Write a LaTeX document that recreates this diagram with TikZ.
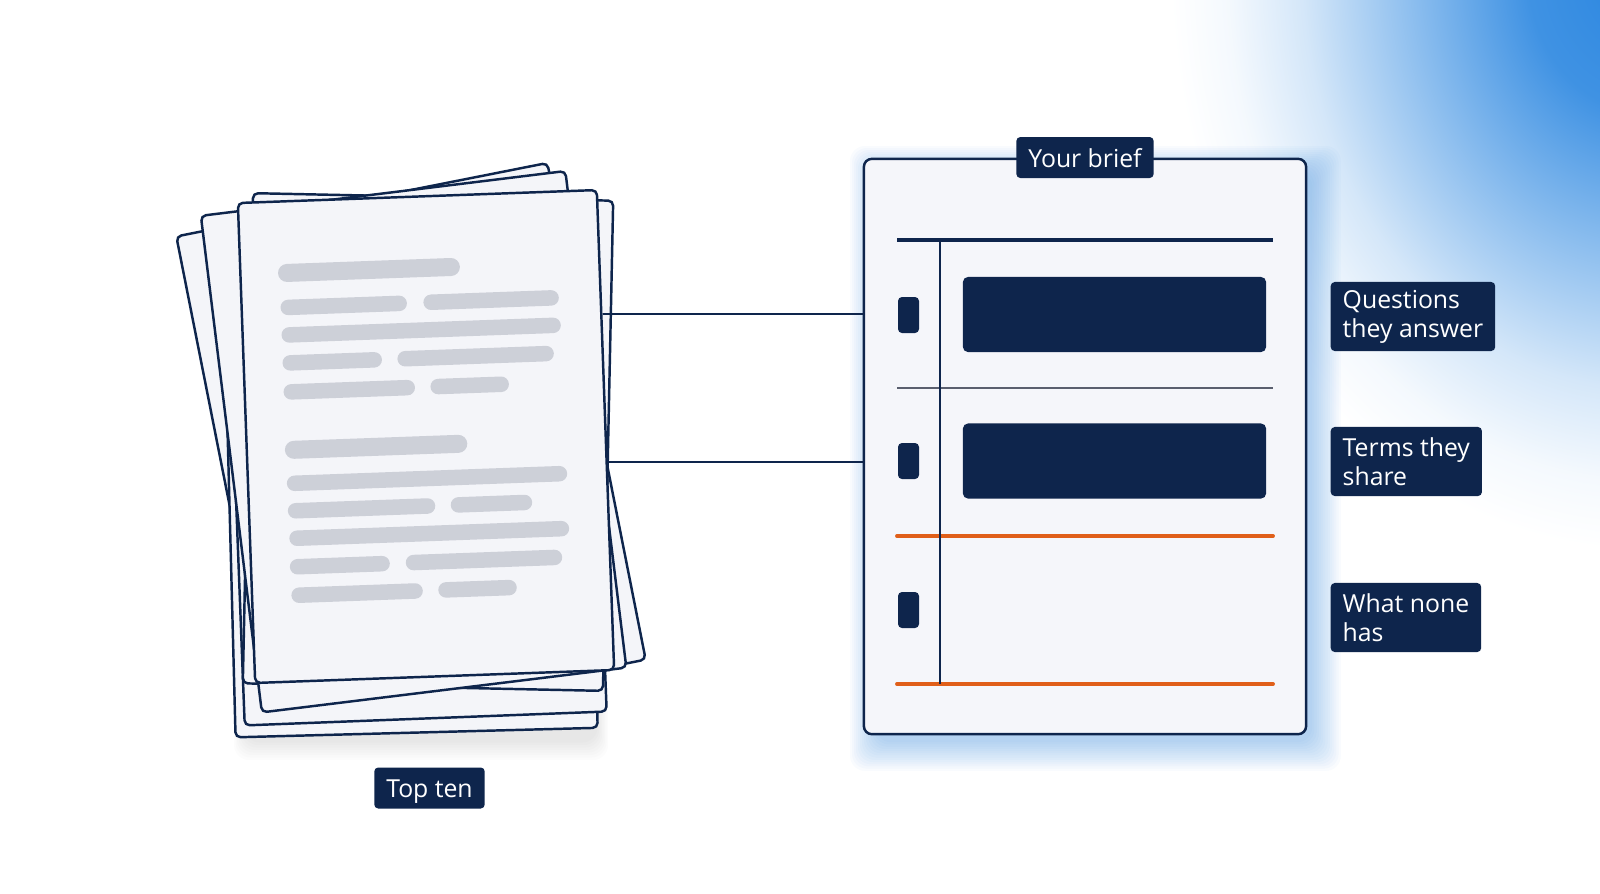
\documentclass[tikz,border=0pt]{standalone}
\usepackage{fontspec}
\setmainfont{Open Sans}
\usetikzlibrary{calc}

\definecolor{inkblue}{HTML}{0E254C}
\definecolor{rust}{HTML}{E05F19}
\definecolor{sheetfill}{HTML}{F4F5F9}
\definecolor{boxfill}{HTML}{F5F6FA}
\definecolor{barfill}{HTML}{CDD0D8}
\definecolor{skyglow}{HTML}{2A86E0}
\definecolor{rulegray}{HTML}{5A5F6E}

\pgfdeclareradialshading{cornerglow}{\pgfpoint{0bp}{0bp}}{%
	color(0bp)=(skyglow); color(6bp)=(skyglow!90!white); color(12bp)=(skyglow!55!white);
	color(18bp)=(skyglow!20!white); color(22bp)=(skyglow!5!white); color(25bp)=(white); color(50bp)=(white)}

\tikzset{
	sheet/.style={draw=inkblue, fill=sheetfill, line width=0.7pt, rounded corners=0.05cm, inner sep=0pt},
	tag/.style={fill=inkblue, text=white, rounded corners=0.04cm, inner xsep=0.12cm, inner ysep=0pt,
		minimum height=0.41cm, font=\fontsize{7.05pt}{8.3pt}\selectfont},
	sidetag/.style={tag, align=left, minimum height=0.69cm, anchor=west},
	textbar/.style={barfill, line width=0.155cm, line cap=round},
	headbar/.style={textbar, line width=0.18cm},
	slab/.style={fill=inkblue, rounded corners=0.05cm, minimum width=3.03cm, minimum height=0.75cm, inner sep=0pt},
	marker/.style={fill=inkblue, rounded corners=0.04cm, minimum width=0.21cm, minimum height=0.36cm, inner sep=0pt},
	link/.style={inkblue, line width=0.6pt},
	rowrule/.style={line width=1.1pt, line cap=round}
}

\begin{document}
\begin{tikzpicture}[x=0.01cm, y=-0.01cm]
		\useasboundingbox (0,0) rectangle (1600,893);
		\fill[white] (0,0) rectangle (1600,893);
		\begin{scope}
			\clip (0,0) rectangle (1600,893);
			\shade[shading=cornerglow] (1640,-30) ellipse (470 and 580);
		\end{scope}

		% stack of pages
		\foreach \k in {1,...,8}
			\fill[black, opacity=0.012, rounded corners=0.15cm] (246-\k*1.5,700) rectangle (596+\k*1.5,740+\k*2.5);
		\node[sheet, minimum width=3.78cm, minimum height=5.06cm, rotate=11.2] (sheet1) at (411,448) {};
		\node[sheet, minimum width=3.62cm, minimum height=5.05cm, rotate=1.5] (sheet5) at (410,480) {};
		\node[sheet, minimum width=3.62cm, minimum height=5.05cm, rotate=2.2] (sheet6) at (416,466) {};
		\node[sheet, minimum width=3.60cm, minimum height=4.90cm, rotate=-1.2] (sheet4) at (428,442) {};
		\node[sheet, minimum width=3.67cm, minimum height=5.00cm, rotate=7] (sheet2) at (413.6,441.7) {};
		\node[sheet, minimum width=3.59cm, minimum height=4.80cm, rotate=2.07] (front) at (426,436.5) {};
		\begin{scope}[rotate around={2.07:(426,436.5)}]
			\draw[headbar] (293,268) -- (457,268);
			\draw[headbar] (293.5,445) -- (458,445);
			\foreach \xa/\xb/\yy in {293/404/302.5, 436/556/302.5, 293/557/330, 293/377/358, 408/549/358,
				293/409/387, 440/503/387, 293/558/478.5, 293/425/506, 456/522/506, 293.5/558/533.5,
				293/377.5/562, 409/550/562, 293.5/409.5/590.5, 440.5/503.5/590.5}
				\draw[textbar] (\xa,\yy) -- (\xb,\yy);
		\end{scope}
		\node[tag, text height=0.19cm, text depth=0pt] (toptag) at (429.5,788) {Top ten};

		% brief card
		\foreach \k in {1,...,14}
			\fill[skyglow, opacity=0.028, rounded corners=0.15cm] (878-\k*2,174-\k*2) rectangle (1310+\k*2.2,740+\k*2.2);
		\node[sheet, fill=boxfill, minimum width=4.42cm, minimum height=5.75cm, rounded corners=0.08cm] (brief) at (1085,446.5) {};
		\node[tag, text height=0.19cm, text depth=0pt] (brieftag) at (1085,157.5) {Your brief};

		\draw[rowrule, inkblue, line cap=butt] (897,240) -- (1273,240);
		\draw[rulegray, line width=0.4pt] (897,388) -- (1273,388);
		\draw[rowrule, rust] (897,536) -- (1273,536);
		\draw[rowrule, rust] (897,684) -- (1273,684);
		\draw[inkblue, line width=0.4pt] (940,240) -- (940,684);
		\foreach \yy [count=\i] in {315,461,610}
			\node[marker] (mark\i) at (908.5,\yy) {};
		\node[slab] (slab1) at (1114.5,314.5) {};
		\node[slab] (slab2) at (1114.5,461) {};

		% links from the pages
		\coordinate (tap1) at ($(front.north east)!0.26!(front.south east)$);
		\coordinate (tap2) at ($(front.north east)!0.567!(front.south east)$);
		\draw[link] (tap1) -- (tap1 -| brief.west);
		\draw[link] (tap2) -- (tap2 -| brief.west);

		\node[sidetag] (asktag) at (1330,316.5) {Questions\\they answer};
		\node[sidetag] (termtag) at (1330,461.5) {Terms they\\share};
		\node[sidetag] (gaptag) at (1330,617.5) {What none\\has};
\end{tikzpicture}
\end{document}
